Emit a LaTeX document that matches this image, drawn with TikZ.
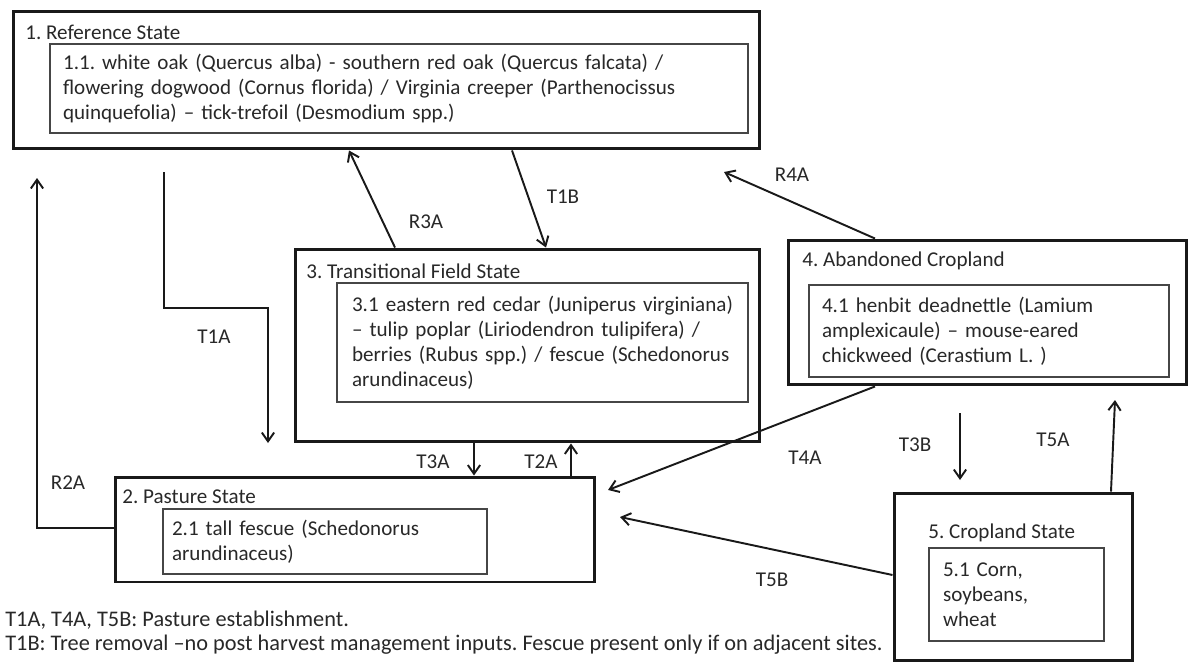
\documentclass[tikz,border=0pt]{standalone}
\usepackage{fontspec}
\setmainfont{Carlito}
\usepackage{tikz}
\usetikzlibrary{arrows.meta,positioning}
\definecolor{ink}{RGB}{40,40,40}
\definecolor{frame}{RGB}{25,25,25}
\definecolor{subframe}{RGB}{70,70,70}
\frenchspacing

\tikzset{
    outerbox/.style={draw=frame, line width=1.7pt, inner sep=0pt},
    innerbox/.style={draw=subframe, line width=1.1pt, align=left, inner ysep=0pt, text=ink},
    boxtitle/.style={anchor=west, inner sep=0pt, text=ink},
    trlabel/.style={inner sep=0pt, text=ink},
    notetext/.style={anchor=west, inner sep=0pt, text=ink, font=\fontsize{12.7}{14.2}\selectfont},
    arr/.style={-{Straight Barb[length=5pt,width=7pt]}, line width=1.1pt, draw=frame}
}

\begin{document}
\begin{tikzpicture}[x=0.02cm, y=-0.02cm, font=\fontsize{12}{14.3}\selectfont]
    \useasboundingbox (0,0) rectangle (1190,666);

    % 1. Reference state
    \node[outerbox, minimum width=14.94cm, minimum height=2.76cm] (ref) at (386.5,80) {};
    \node[boxtitle] (ref-title) at (25,32) {1. Reference State};
    \node[innerbox, minimum height=1.78cm, text width=13.44cm, inner xsep=0.26cm] (ref-sp) at (399,88.5)
        {1.1. white oak (Quercus alba) - southern red oak (Quercus falcata) /\\
         flowering dogwood (Cornus florida) / Virginia creeper (Parthenocissus\\
         quinquefolia) -- tick-trefoil (Desmodium spp.)};

    % 3. Transitional field state
    \node[outerbox, minimum width=9.3cm, minimum height=3.86cm] (trans) at (527.5,345.5) {};
    \node[boxtitle] (trans-title) at (306,271) {3. Transitional Field State};
    \node[innerbox, minimum height=2.38cm, text width=7.62cm, inner xsep=0.3cm] (trans-sp) at (542.5,342.5)
        {3.1 eastern red cedar (Juniperus virginiana)\\
         -- tulip poplar (Liriodendron tulipifera) /\\
         berries (Rubus spp.) / fescue (Schedonorus\\
         arundinaceus)};

    % 4. Abandoned cropland
    \node[outerbox, minimum width=7.98cm, minimum height=2.9cm] (aband) at (987.5,312.5) {};
    \node[boxtitle] (aband-title) at (802,261) {4. Abandoned Cropland};
    \node[innerbox, minimum height=1.84cm, text width=6.68cm, inner xsep=0.26cm] (aband-sp) at (989,331)
        {4.1 henbit deadnettle (Lamium\\
         amplexicaule) -- mouse-eared\\
         chickweed (Cerastium L. )};

    % 2. Pasture state
    \node[outerbox, minimum width=9.6cm, minimum height=2.1cm] (past) at (355,529.5) {};
    \node[boxtitle] (past-title) at (122,497) {2. Pasture State};
    \node[innerbox, minimum height=1.3cm, text width=6.12cm, inner xsep=0.18cm] (past-sp) at (325,541.5)
        {2.1 tall fescue (Schedonorus\\
         arundinaceus)};

    % 5. Cropland state
    \node[outerbox, minimum width=4.78cm, minimum height=3.36cm] (crop) at (1013.5,577) {};
    \node[boxtitle] (crop-title) at (928,533) {5. Cropland State};
    \node[innerbox, minimum height=1.86cm, text width=2.94cm, inner xsep=0.28cm] (crop-sp) at (1016.5,594.5)
        {5.1 Corn,\\
         soybeans,\\
         wheat};

    % free ends of connectors
    \coordinate (t1a-start) at (164,172);
    \coordinate (t1a-bend) at (268,308);
    \coordinate (t1a-end) at (268,443);
    \coordinate (r2a-end) at (37,178);
    \coordinate (r4a-end) at (724,172);
    \coordinate (t4a-end) at (608,490);
    \coordinate (t5b-end) at (620,517);
    \coordinate (t5a-end) at (1115,400);
    \coordinate (t3b-start) at (960,413);
    \coordinate (t3b-end) at (960,480);

    % Transitions and restorations
    \draw[arr] (ref.south -| 512,0) -- (trans.north -| 546,0);
    \draw[arr] (trans.north -| 395,0) -- (ref.south -| 349,0);
    \draw[arr] (aband.north -| 875,0) -- (r4a-end);
    \draw[arr] (t1a-start) |- (t1a-bend) -- (t1a-end);
    \draw[arr] (past.west |- 0,528) -| (r2a-end);
    \draw[arr] (trans.south -| 474,0) -- (past.north -| 474,0);
    \draw[arr] (past.north -| 571,0) -- (trans.south -| 571,0);
    \draw[arr] (aband.south -| 875,0) -- (t4a-end);
    \draw[arr] (t3b-start) -- (t3b-end);
    \draw[arr] (crop.north -| 1111,0) -- (t5a-end);
    \draw[arr] (crop.west |- 0,575) -- (t5b-end);

    \node[trlabel] (lbl-r3a) at (426,222) {R3A};
    \node[trlabel] (lbl-t1b) at (563,197) {T1B};
    \node[trlabel] (lbl-r4a) at (792,175) {R4A};
    \node[trlabel] (lbl-t1a) at (214,337) {T1A};
    \node[trlabel] (lbl-r2a) at (68,483) {R2A};
    \node[trlabel] (lbl-t3a) at (433,462) {T3A};
    \node[trlabel] (lbl-t2a) at (541,462) {T2A};
    \node[trlabel] (lbl-t4a) at (805,458) {T4A};
    \node[trlabel] (lbl-t3b) at (915,445) {T3B};
    \node[trlabel] (lbl-t5a) at (1053,440) {T5A};
    \node[trlabel] (lbl-t5b) at (772,580) {T5B};

    % Legend
    \node[notetext] (note1) at (5,620) {T1A, T4A, T5B: Pasture establishment.};
    \node[notetext] (note2) at (5,645) {T1B: Tree removal --no post harvest management inputs. Fescue present only if on adjacent sites.};
\end{tikzpicture}
\end{document}
